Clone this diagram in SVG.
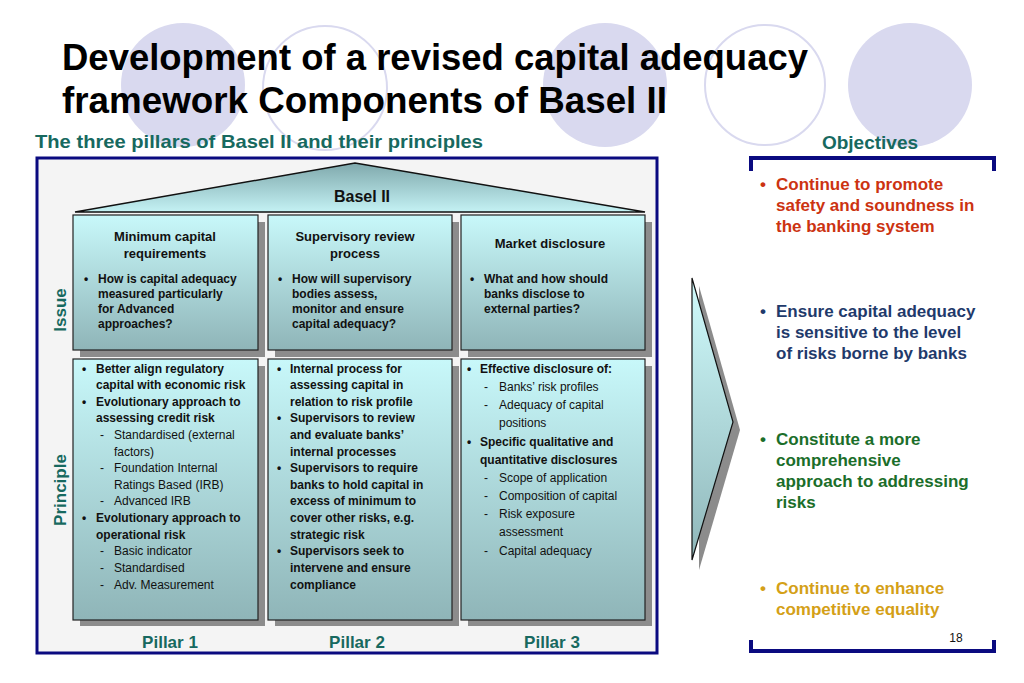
<svg xmlns="http://www.w3.org/2000/svg" width="1024" height="683" viewBox="0 0 1024 683">
<defs>
<linearGradient id="g" x1="0" y1="0" x2="0" y2="1"><stop offset="0" stop-color="#c8f8fa"/><stop offset="1" stop-color="#8fb5b8"/></linearGradient>
<linearGradient id="gr" x1="0" y1="0" x2="0" y2="1"><stop offset="0" stop-color="#7fa8ac"/><stop offset="1" stop-color="#c4f2f4"/></linearGradient>
<linearGradient id="gc" x1="0" y1="0" x2="0" y2="1"><stop offset="0" stop-color="#d0fbfc"/><stop offset="1" stop-color="#8fb6b9"/></linearGradient>
<style>
text{font-family:"Liberation Sans",Arial,sans-serif}
.b{font-weight:bold}
.box{fill:url(#g);stroke:#222;stroke-width:1.2}
.sh{fill:#8c8c8c}
.h{font-size:13px;font-weight:bold;fill:#111;text-anchor:middle}
.t{font-size:12px;fill:#111}
.tb{font-size:12px;fill:#111;font-weight:bold}
.teal{fill:#17695f;font-weight:bold}
.obj{font-size:17px;font-weight:bold}
</style>
</defs>
<rect width="1024" height="683" fill="#fff"/>
<g id="bg">
<circle cx="183" cy="85" r="62" fill="#d9d9ef"/>
<circle cx="325" cy="88" r="62" fill="none" stroke="#d9d9ef" stroke-width="2"/>
<circle cx="605" cy="85" r="62" fill="#d9d9ef"/>
<circle cx="765" cy="85" r="60" fill="none" stroke="#d9d9ef" stroke-width="2"/>
<circle cx="910" cy="85" r="62" fill="#d9d9ef"/>
</g>
<text x="62" y="70" class="b" font-size="37" fill="#000" textLength="746" lengthAdjust="spacingAndGlyphs">Development of a revised capital adequacy</text>
<text x="62" y="113" class="b" font-size="37" fill="#000" textLength="605" lengthAdjust="spacingAndGlyphs">framework Components of Basel II</text>
<text x="35" y="148" class="teal" font-size="19" textLength="448" lengthAdjust="spacingAndGlyphs">The three pillars of Basel II and their principles</text>
<text x="870" y="149" class="teal" font-size="19" text-anchor="middle">Objectives</text>
<g id="frame"><rect x="37" y="158" width="620" height="495" fill="#f4f4f4" stroke="#0a0a80" stroke-width="3"/></g>
<g id="roof"><polygon points="75,212 355,163 645,212" fill="url(#gr)" stroke="#111" stroke-width="1.5"/>
<text x="362" y="202" font-size="16" font-weight="bold" fill="#111" text-anchor="middle">Basel II</text></g>
<g id="issue1"><rect class="sh" x="80" y="222" width="185" height="135"/><rect class="box" x="73" y="215" width="185" height="135"/>
<text class="h" x="165" y="241">Minimum capital</text><text class="h" x="165" y="258">requirements</text>
<text class="tb" x="84" y="283">•</text><text class="tb" x="98" y="283">How is capital adequacy</text><text class="tb" x="98" y="298">measured particularly</text><text class="tb" x="98" y="313">for Advanced</text><text class="tb" x="98" y="328">approaches?</text></g>
<g id="issue2"><rect class="sh" x="275" y="222" width="184" height="135"/><rect class="box" x="268" y="215" width="184" height="135"/>
<text class="h" x="355" y="241">Supervisory review</text><text class="h" x="355" y="258">process</text>
<text class="tb" x="278" y="283">•</text><text class="tb" x="292" y="283">How will supervisory</text><text class="tb" x="292" y="298">bodies assess,</text><text class="tb" x="292" y="313">monitor and ensure</text><text class="tb" x="292" y="328">capital adequacy?</text></g>
<g id="issue3"><rect class="sh" x="468" y="222" width="184" height="135"/><rect class="box" x="461" y="215" width="184" height="135"/>
<text class="h" x="550" y="248">Market disclosure</text>
<text class="tb" x="470" y="283">•</text><text class="tb" x="484" y="283">What and how should</text><text class="tb" x="484" y="298">banks disclose to</text><text class="tb" x="484" y="313">external parties?</text></g>
<g id="p1"><rect class="sh" x="80" y="366" width="185" height="260"/><rect class="box" x="73" y="359" width="185" height="261"/>
<g class="tb"><text x="82" y="373">•</text><text x="96" y="373">Better align regulatory</text><text x="96" y="389">capital with economic risk</text>
<text x="82" y="406">•</text><text x="96" y="406">Evolutionary approach to</text><text x="96" y="422">assessing credit risk</text>
<text x="82" y="522">•</text><text x="96" y="522">Evolutionary approach to</text><text x="96" y="539">operational risk</text></g>
<g class="t"><text x="100" y="439">-</text><text x="114" y="439">Standardised (external</text><text x="114" y="456">factors)</text>
<text x="100" y="472">-</text><text x="114" y="472">Foundation Internal</text><text x="114" y="489">Ratings Based (IRB)</text>
<text x="100" y="505">-</text><text x="114" y="505">Advanced IRB</text>
<text x="100" y="555">-</text><text x="114" y="555">Basic indicator</text>
<text x="100" y="572">-</text><text x="114" y="572">Standardised</text>
<text x="100" y="589">-</text><text x="114" y="589">Adv. Measurement</text></g></g>
<g id="p2"><rect class="sh" x="275" y="366" width="184" height="260"/><rect class="box" x="268" y="359" width="184" height="261"/>
<g class="tb"><text x="277" y="373">•</text><text x="290" y="373">Internal process for</text><text x="290" y="389">assessing capital in</text><text x="290" y="406">relation to risk profile</text>
<text x="277" y="422">•</text><text x="290" y="422">Supervisors to review</text><text x="290" y="439">and evaluate banks’</text><text x="290" y="456">internal processes</text>
<text x="277" y="472">•</text><text x="290" y="472">Supervisors to require</text><text x="290" y="489">banks to hold capital in</text><text x="290" y="505">excess of minimum to</text><text x="290" y="522">cover other risks, e.g.</text><text x="290" y="539">strategic risk</text>
<text x="277" y="555">•</text><text x="290" y="555">Supervisors seek to</text><text x="290" y="572">intervene and ensure</text><text x="290" y="589">compliance</text></g></g>
<g id="p3"><rect class="sh" x="468" y="366" width="184" height="260"/><rect class="box" x="461" y="359" width="184" height="261"/>
<g class="tb"><text x="467" y="373">•</text><text x="480" y="373">Effective disclosure of:</text>
<text x="467" y="446">•</text><text x="480" y="446">Specific qualitative and</text><text x="480" y="464">quantitative disclosures</text></g>
<g class="t"><text x="484" y="391">-</text><text x="499" y="391">Banks’ risk profiles</text>
<text x="484" y="409">-</text><text x="499" y="409">Adequacy of capital</text><text x="499" y="427">positions</text>
<text x="484" y="482">-</text><text x="499" y="482">Scope of application</text>
<text x="484" y="500">-</text><text x="499" y="500">Composition of capital</text>
<text x="484" y="518">-</text><text x="499" y="518">Risk exposure</text><text x="499" y="536">assessment</text>
<text x="484" y="555">-</text><text x="499" y="555">Capital adequacy</text></g></g>
<text transform="translate(66,310) rotate(-90)" class="teal" font-size="17" text-anchor="middle">Issue</text>
<text transform="translate(66,490) rotate(-90)" class="teal" font-size="17" text-anchor="middle">Principle</text>
<g class="teal" font-size="17" text-anchor="middle"><text x="170" y="648">Pillar 1</text><text x="357" y="648">Pillar 2</text><text x="552" y="648">Pillar 3</text></g>
<g id="arrow"><polygon points="699,286 740,430 699,570" fill="#8c8c8c"/><polygon points="692,278 733,422 692,560" fill="url(#gc)" stroke="#111" stroke-width="1.2"/></g>
<g id="objectives">
<path d="M751,171 V158 H994 V171" fill="none" stroke="#0a0a80" stroke-width="4"/>
<path d="M751,640 V651 H994 V640" fill="none" stroke="#0a0a80" stroke-width="4"/>
<g class="obj" fill="#cc3311"><text x="760" y="190">•</text><text x="776" y="190">Continue to promote</text><text x="776" y="211">safety and soundness in</text><text x="776" y="232">the banking system</text></g>
<g class="obj" fill="#1f3a6b"><text x="760" y="317">•</text><text x="776" y="317">Ensure capital adequacy</text><text x="776" y="338">is sensitive to the level</text><text x="776" y="359">of risks borne by banks</text></g>
<g class="obj" fill="#1b6e2a"><text x="760" y="445">•</text><text x="776" y="445">Constitute a more</text><text x="776" y="466">comprehensive</text><text x="776" y="487">approach to addressing</text><text x="776" y="508">risks</text></g>
<g class="obj" fill="#d4a017"><text x="760" y="594">•</text><text x="776" y="594">Continue to enhance</text><text x="776" y="615">competitive equality</text></g>
<text x="956" y="642" font-size="12" fill="#111" text-anchor="middle">18</text>
</g>
</svg>
